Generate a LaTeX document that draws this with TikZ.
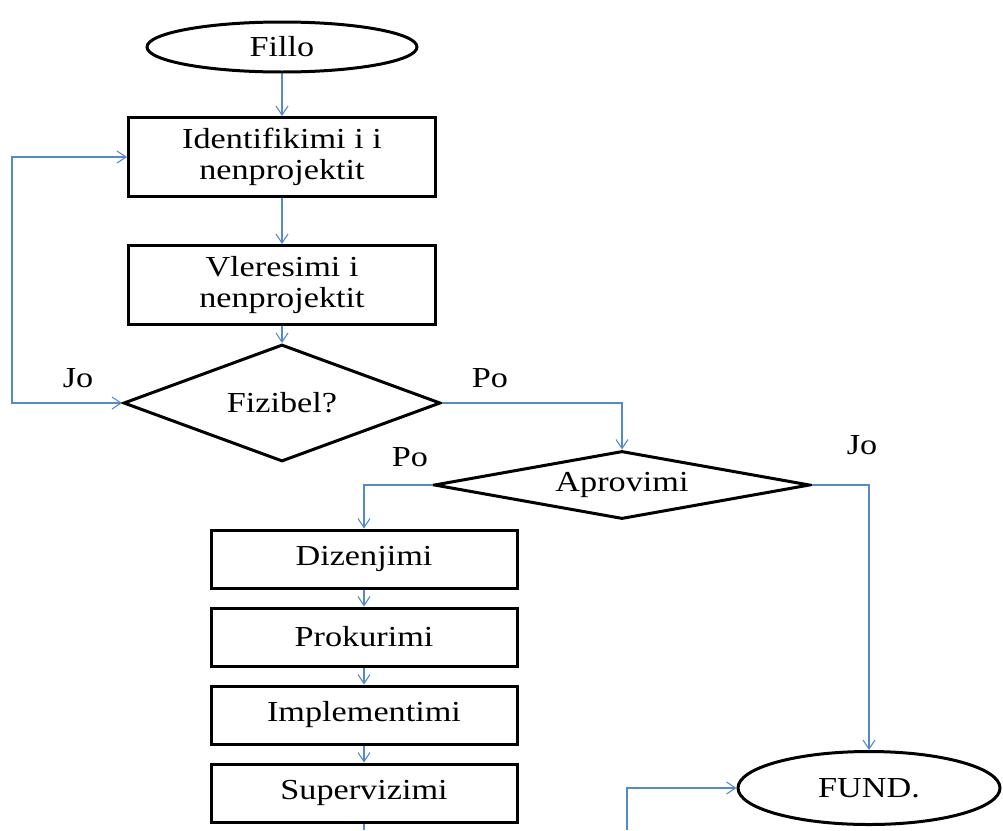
\documentclass[tikz,border=0pt]{standalone}
\usepackage{fontspec}
\setmainfont{Liberation Serif}[FakeStretch=1.18]
\usetikzlibrary{shapes.geometric,arrows.meta}
\definecolor{linkblue}{RGB}{84,138,200}
\begin{document}
\begin{tikzpicture}[x=1pt, y=-1pt, >={Straight Barb[length=9pt,width=12pt]}]
\useasboundingbox (0,0) rectangle (1003,830);
\tikzstyle{link} = [->, linkblue, line width=1.1pt]
\tikzstyle{every node} = [draw, line width=3pt, align=center, font=\fontsize{29}{31}\selectfont]
\node[ellipse, minimum width=270pt, minimum height=50pt, inner sep=0pt] (1) at (282,47) {Fillo};
\node[rectangle, minimum width=307pt, minimum height=79pt, inner sep=0pt] (2) at (282,157) {Identifikimi i i\\nenprojektit};
\node[rectangle, minimum width=307pt, minimum height=79pt, inner sep=0pt] (3) at (282,285) {Vleresimi i\\nenprojektit};
\node[diamond, aspect=2.7, minimum width=317pt, minimum height=117pt, inner sep=0pt] (4) at (282,403) {Fizibel?};
\node[diamond, aspect=5.5, minimum width=376pt, minimum height=68pt, inner sep=0pt] (5) at (622,485) {Aprovimi};
\node[rectangle, minimum width=306pt, minimum height=58pt, inner sep=0pt] (6) at (364,559) {Dizenjimi};
\node[rectangle, minimum width=306pt, minimum height=58pt, inner sep=0pt] (7) at (364,637) {Prokurimi};
\node[rectangle, minimum width=306pt, minimum height=58pt, inner sep=0pt] (8) at (364,715) {Implementimi};
\node[rectangle, minimum width=306pt, minimum height=58pt, inner sep=0pt] (9) at (364,793) {Supervizimi};
\node[ellipse, minimum width=262pt, minimum height=73pt, inner sep=0pt] (10) at (869,788) {FUND.};
\tikzstyle{every node} = [inner sep=0pt, font=\fontsize{29}{31}\selectfont]
\node (11) at (78,378) {Jo};
\node (12) at (490,378) {Po};
\node (13) at (410,457) {Po};
\node (14) at (862,445) {Jo};
\coordinate (c1) at (12,403);
\coordinate (c2) at (364,830);
\coordinate (c3) at (627,830);
\draw[link] (1) -- (2);
\draw[link] (2) -- (3);
\draw[link] (3) -- (4);
\draw[link, <->] (4.west) -- (c1) |- (2.west);
\draw[link] (4.east) -| (5.north);
\draw[link] (5.west) -| (6.north);
\draw[link] (5.east) -| (10.north);
\draw[link] (6) -- (7);
\draw[link] (7) -- (8);
\draw[link] (8) -- (9);
\draw[linkblue, line width=1.1pt] (9.south) -- (c2);
\draw[link] (c3) |- (10.west);
\end{tikzpicture}
\end{document}
